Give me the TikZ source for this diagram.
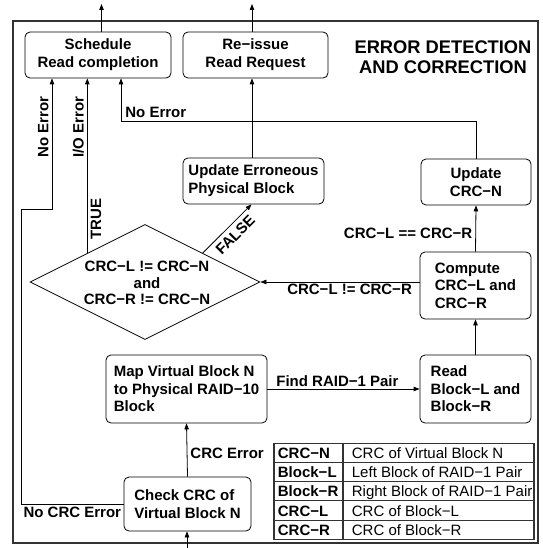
\documentclass[tikz,border=0pt]{standalone}
\usepackage{fontspec}
\setmainfont{Liberation Sans}
\usetikzlibrary{arrows.meta,shapes.geometric}
\begin{document}
\begin{tikzpicture}[x=1pt,y=-1pt,
  line width=0.8pt,
  arr/.style={-{Triangle[length=6pt,width=4.5pt]}},
  bfnt/.style={font=\bfseries\fontsize{15}{18}\selectfont},
  box/.style={draw, rounded corners=5pt, inner sep=0pt, align=center, bfnt},
  lbox/.style={box, align=left, font=\bfseries\fontsize{15}{17.5}\selectfont},
  lbl/.style={bfnt, inner sep=3pt},
  frame/.style={draw=black!80, line width=1.3pt},
  tbl/.style={draw=black!80, line width=1.1pt},
  key/.style={font=\bfseries\fontsize{15}{18}\selectfont, inner sep=0pt, anchor=base west},
  desc/.style={font=\fontsize{15}{18}\selectfont, inner sep=0pt, anchor=base west},
  ttl/.style={font=\bfseries\fontsize{18.3}{20}\selectfont, align=center, inner sep=0pt}
]
\useasboundingbox (0,0) rectangle (542,548);

% outer frame
\draw[frame] (13,21) rectangle (538,543);

% title
\node[ttl] (title) at (443,57) {ERROR DETECTION\\AND CORRECTION};

% boxes
\node[box, minimum width=146pt, minimum height=46pt] (sched) at (98,55) {Schedule\\Read completion};
\node[box, minimum width=145pt, minimum height=46pt] (reissue) at (255.5,55) {Re−issue\\Read Request};
\node[box, align=left, minimum width=141pt, minimum height=46pt] (upderr) at (253.5,181) {Update Erroneous\\Physical Block};
\node[box, minimum width=110pt, minimum height=46pt] (updcrc) at (476,182) {Update\\CRC−N};
\node[lbox, minimum width=111pt, minimum height=67pt] (compute) at (475.5,285.5) {Compute\\CRC−L and\\CRC−R};
\node[lbox, minimum width=111pt, minimum height=68pt] (read) at (475.5,389) {Read\\Block−L and\\Block−R};
\node[lbox, minimum width=161pt, minimum height=68pt] (map) at (186.5,389) {Map Virtual Block N\\to Physical RAID−10\\Block};
\node[lbox, minimum width=127pt, minimum height=54pt] (check) at (187.5,504) {Check CRC of\\Virtual Block N};
\node[diamond, draw, minimum width=230pt, minimum height=115pt, inner sep=0pt] (dia) at (145,282) {};
\node[lbl, align=center, inner sep=0pt, font=\bfseries\fontsize{15}{16.5}\selectfont] (diatext) at (147,283) {CRC−L != CRC−N\\and\\CRC−R != CRC−N};

% free ends and corners
\coordinate (out1) at (101.5,4);
\coordinate (out2) at (252,4);
\coordinate (in0) at (187,548);
\coordinate (noerrc) at (121,121);
\coordinate (c1) at (21,209);
\coordinate (c2) at (52,209);

% connectors
\draw[arr] (sched.north -| out1) -- (out1);
\draw[arr] (reissue.north -| out2) -- (out2);
\draw[arr] (upderr.north -| out2) -- (reissue.south -| out2);
\draw[arr] (updcrc.north) |- (noerrc)
  node[lbl, pos=1, anchor=south west, xshift=1pt] {No Error}
  -- (sched.south -| noerrc);
\draw[arr] (compute.north) -- (updcrc.south)
  node[lbl, pos=0.4, left] {CRC−L == CRC−R};
\draw[arr] (compute.west |- dia.east) -- (dia.east)
  node[lbl, pos=0.44, below, inner sep=2pt] {CRC−L != CRC−R};
\draw[arr] (dia.north west) -- (sched.south -| dia.north west)
  node[lbl, pos=0.195, rotate=90, anchor=north] {TRUE}
  node[lbl, pos=0.72, rotate=90, anchor=south] {I/O Error};
\draw[arr] (dia.north east) -- ([xshift=-2pt]upderr.south)
  node[lbl, pos=0.52, sloped, below, inner sep=4.5pt] {FALSE};
\draw[arr] (map.east) -- (read.west)
  node[lbl, pos=0.46, above, inner sep=2pt] {Find RAID−1 Pair};
\draw[arr] (read.north) -- (compute.south);
\draw[arr] (check.north) -- (map.south)
  node[lbl, pos=0.44, right] {CRC Error};
\draw[arr] (in0) -- (in0 |- check.south);
\draw[arr] (check.west) -| (c1)
  node[lbl, pos=0.25, below] {No CRC Error}
  -- (c2) -- (sched.south -| c2)
  node[lbl, pos=0.626, rotate=90, anchor=south] {No Error};

% legend table
\draw[tbl] (274,443.3) rectangle (534,539.3);
\draw[tbl] (343,443.3) -- (343,539.3);
\foreach \yy in {462.5,481.7,500.9,520.1} \draw[tbl] (274,\yy) -- (534,\yy);
\node[key] (k1) at (277.5,458.4) {CRC−N};
\node[key] (k2) at (277.5,477.6) {Block−L};
\node[key] (k3) at (277.5,496.8) {Block−R};
\node[key] (k4) at (277.5,516.0) {CRC−L};
\node[key] (k5) at (277.5,535.2) {CRC−R};
\node[desc] (d1) at (351.5,458.4) {CRC of Virtual Block N};
\node[desc] (d2) at (351.5,477.6) {Left Block of RAID−1 Pair};
\node[desc] (d3) at (351.5,496.8) {Right Block of RAID−1 Pair};
\node[desc] (d4) at (351.5,516.0) {CRC of Block−L};
\node[desc] (d5) at (351.5,535.2) {CRC of Block−R};
\end{tikzpicture}
\end{document}
